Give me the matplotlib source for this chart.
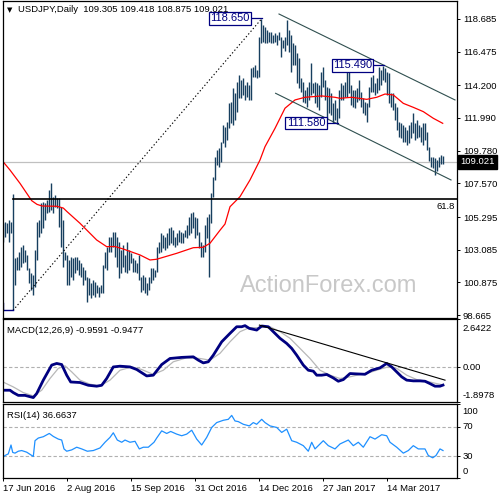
import matplotlib
matplotlib.use("Agg")
import matplotlib.pyplot as plt
import numpy as np

plt.rcParams['font.family'] = ['Liberation Sans', 'DejaVu Sans']

# ---------------- data ----------------
HEADER = "USDJPY,Daily  109.305 109.418 108.875 109.021"
LAST_PRICE = 109.021

HIGHS = [104.91, 104.98, 104.91, 105.09, 104.98, 106.85, 102.50, 102.61, 102.95, 103.29,
         103.40, 103.07, 102.73, 101.83, 101.49, 101.37, 103.07, 104.98, 105.09, 106.22,
         106.33, 106.22, 106.45, 107.12, 107.58, 106.67, 106.78, 106.56, 106.56, 105.99,
         105.09, 102.95, 102.73, 102.39, 102.61, 102.50, 102.61, 102.61, 102.39, 102.17,
         101.94, 101.71, 101.26, 101.15, 100.81, 101.04, 100.92, 100.70, 100.58, 100.70,
         102.05, 102.95, 103.29, 103.96, 103.96, 104.30, 104.30, 103.96, 103.63, 103.07,
         103.40, 102.73, 103.63, 103.07, 102.84, 102.50, 102.39, 102.17, 102.73, 101.26,
         101.37, 101.26, 100.81, 101.26, 101.83, 101.83, 101.71, 103.29, 103.63, 104.19,
         104.08, 103.96, 104.19, 104.53, 104.64, 104.42, 103.96, 104.19, 104.42, 104.30,
         104.19, 104.42, 104.76, 105.32, 105.55, 105.66, 105.32, 105.21, 104.30, 103.63,
         103.40, 104.76, 105.32, 105.50, 106.90, 108.02, 109.37, 109.83, 109.94, 110.39,
         111.52, 111.40, 111.74, 112.98, 113.09, 113.99, 113.66, 114.45, 114.90, 114.56,
         114.68, 114.22, 114.45, 114.22, 115.35, 115.46, 115.57, 115.24, 117.49, 118.65,
         118.30, 118.17, 117.94, 117.83, 117.83, 117.60, 117.72, 117.60, 117.83, 117.49,
         117.27, 117.45, 118.60, 117.94, 117.60, 117.04, 116.90, 116.37, 116.03, 114.68,
         114.45, 113.88, 114.11, 114.45, 115.69, 114.34, 114.45, 114.34, 114.22, 115.12,
         115.46, 114.56, 114.11, 113.99, 113.66, 112.98, 113.21, 112.65, 113.88, 114.34,
         114.22, 114.45, 115.24, 115.12, 114.22, 113.88, 113.88, 113.99, 114.56, 113.77,
         113.32, 113.09, 112.98, 114.11, 114.79, 114.90, 114.34, 114.68, 115.46, 115.24,
         115.49, 115.35, 115.12, 115.01, 113.66, 113.66, 112.98, 112.76, 111.74, 111.63,
         111.52, 111.40, 111.18, 111.52, 111.74, 112.31, 111.63, 111.86, 111.52, 111.40,
         111.63, 111.63, 111.07, 110.05, 109.37, 109.37, 109.26, 109.15, 109.35, 109.50,
         109.418]
LOWS = [103.63, 103.96, 104.19, 103.63, 104.19, 99.01, 100.70, 101.71, 101.71, 101.94,
        102.17, 102.27, 101.71, 100.81, 100.36, 100.02, 100.58, 102.39, 103.96, 104.19,
        104.53, 105.09, 105.55, 105.66, 105.77, 105.55, 105.99, 105.88, 104.64, 103.29,
        101.94, 102.39, 100.70, 100.70, 101.26, 101.04, 101.49, 101.71, 101.37, 101.26,
        100.70, 101.04, 99.57, 100.02, 99.80, 100.02, 99.91, 100.14, 99.91, 100.14,
        100.14, 101.83, 101.71, 102.95, 102.95, 103.29, 102.61, 101.94, 101.15, 101.49,
        101.94, 101.60, 101.49, 101.71, 102.17, 101.60, 101.60, 101.49, 101.04, 100.25,
        100.36, 100.14, 100.02, 100.36, 100.81, 101.04, 101.26, 101.60, 102.84, 102.95,
        103.18, 103.07, 103.18, 103.40, 103.52, 103.40, 103.29, 103.40, 103.63, 103.52,
        103.52, 103.96, 103.85, 104.08, 104.19, 104.53, 103.85, 104.08, 103.18, 102.61,
        102.61, 102.95, 103.85, 101.26, 104.90, 106.67, 107.80, 108.82, 108.70, 109.04,
        110.28, 110.05, 110.50, 111.29, 111.63, 111.52, 111.86, 112.42, 113.32, 113.32,
        113.55, 113.21, 113.43, 113.21, 113.21, 114.78, 114.78, 114.68, 114.78, 117.04,
        117.10, 117.04, 117.04, 117.15, 117.04, 117.04, 117.15, 116.93, 117.27, 116.14,
        116.70, 116.55, 116.95, 116.48, 115.12, 115.57, 115.60, 114.34, 114.00, 113.77,
        113.09, 112.98, 112.76, 113.21, 113.55, 113.66, 112.98, 112.76, 112.53, 113.43,
        114.11, 113.21, 111.86, 112.31, 112.19, 111.63, 111.86, 111.58, 111.97, 113.21,
        113.21, 113.43, 113.43, 113.66, 112.87, 112.76, 112.65, 113.09, 113.21, 112.76,
        112.31, 112.19, 111.74, 112.76, 113.77, 113.77, 113.55, 113.66, 113.88, 114.22,
        114.56, 114.45, 113.55, 112.98, 112.76, 112.53, 111.86, 111.18, 110.73, 110.62,
        110.39, 110.39, 110.17, 110.28, 110.62, 110.96, 110.50, 110.62, 110.73, 110.39,
        110.17, 110.50, 109.83, 109.08, 108.70, 108.60, 108.14, 108.40, 108.65, 108.85,
        108.875]

DATE_TICK_IDX = [0, 32, 64, 96, 128, 160, 192]
DATE_LABELS = ["17 Jun 2016", "2 Aug 2016", "15 Sep 2016", "31 Oct 2016",
               "14 Dec 2016", "27 Jan 2017", "14 Mar 2017"]
PRICE_TICKS = [118.685, 116.475, 114.200, 111.990, 109.780, 107.570,
               105.295, 103.085, 100.875, 98.665]

MA_IDX = [0, 3.5, 8.5, 14.35, 17, 19.5, 27, 30.15, 32, 38.5, 46.85, 51.85, 56, 60.15,
          68.5, 73.5, 76.85, 86.85, 95.15, 100.15, 103.5, 108.5, 111, 113.5, 118.5,
          123.5, 128.5, 131, 136, 141, 146, 151, 159.35, 166, 168.5, 174.35, 181.85,
          186.85, 191, 195.15, 200.15, 205.15, 210.15, 215.15, 219.85]
MA_VAL = [109.04, 108.47, 107.57, 106.40, 106.15, 106.04, 106.02, 105.90, 105.66,
          104.87, 103.74, 103.29, 103.30, 103.13, 102.73, 102.39, 102.44, 102.84,
          103.22, 103.25, 103.52, 104.40, 104.82, 105.99, 106.67, 107.80, 109.15,
          110.05, 111.29, 112.65, 113.21, 113.39, 113.48, 113.39, 113.32, 113.39,
          113.25, 113.39, 113.61, 113.55, 112.98, 112.71, 112.42, 111.97, 111.63]

MACD_IDX = [0, 3.5, 5.15, 7.65, 11, 15.15, 16.85, 20.15, 24.35, 26.85, 29.35, 31.85,
            33.85, 38.5, 42.65, 46.85, 49.35, 51.85, 55.15, 58.5, 63.5, 66.85, 71.85,
            75.15, 79.35, 83.5, 89.35, 95.15, 97.65, 100.15, 102.65, 105.15, 109.35,
            113.5, 116.85, 119.35, 121, 123.15, 126.85, 129.35, 132.65, 135.15, 138.5,
            141.85, 144.35, 146.85, 150.15, 152.65, 155.15, 156.85, 159.35, 161.85,
            165.15, 167.65, 170.15, 173.5, 176.85, 181, 184.35, 188.5, 191.85, 194.35,
            196.85, 199.35, 201.85, 205.15, 208.5, 211, 213.5, 216, 218.5, 220]
MACD_VAL = [-1.24, -1.24, -1.37, -1.52, -1.52, -1.64, -1.42, -0.69, 0.13, 0.22, 0.16,
            -0.42, -0.79, -0.82, -0.97, -1.02, -0.97, -0.60, 0.03, 0.07, 0.03, -0.11,
            -0.46, -0.42, 0.16, 0.49, 0.55, 0.58, 0.40, 0.25, 0.31, 0.67, 1.40, 1.86,
            2.22, 2.22, 2.28, 2.13, 2.04, 2.26, 2.22, 1.95, 1.59, 1.31, 1.04, 0.67,
            0.13, -0.15, -0.20, -0.42, -0.42, -0.38, -0.57, -0.75, -0.66, -0.33, -0.35,
            -0.37, -0.15, -0.02, 0.22, 0.03, -0.24, -0.51, -0.69, -0.73, -0.73, -0.75,
            -0.88, -1.02, -1.02, -0.96]
SIG_IDX = [0, 5.15, 10.15, 15.15, 19.35, 23.5, 27.65, 31, 34.35, 38.5, 43.5, 48.5,
           53.5, 58.5, 64.35, 69.35, 75.15, 80.15, 85.15, 91.85, 98.5, 103.5, 108.5,
           113.5, 118.5, 123.15, 128.5, 133.5, 138.5, 143.5, 148.5, 153.5, 158.5,
           163.5, 168.5, 173.5, 178.5, 183.5, 188.5, 192.65, 196.85, 201.85, 206.85,
           211.85, 216.85, 220]
SIG_VAL = [-0.79, -1.06, -1.37, -1.55, -1.24, -0.60, -0.05, 0.09, -0.24, -0.69, -0.91,
           -1.01, -0.69, -0.15, 0.03, -0.11, -0.38, -0.15, 0.31, 0.53, 0.49, 0.40,
           0.77, 1.40, 1.95, 2.17, 2.17, 2.22, 1.95, 1.59, 1.04, 0.49, -0.15, -0.42,
           -0.60, -0.51, -0.38, -0.27, -0.09, 0.03, -0.05, -0.42, -0.66, -0.75, -0.88,
           -0.95]
MACD_TITLE = "MACD(12,26,9) -0.9591 -0.9477"
MACD_LEVELS = [2.6422, 0.0, -1.8978]
MACD_LEVEL_LABELS = ["2.6422", "0.00", "-1.8978"]

RSI_IDX = [0, 1, 2.65, 4, 4.85, 6, 7.65, 9.35, 11.85, 15.15, 16, 17.65, 20.15, 23.15,
           25.15, 27.65, 29.35, 30.5, 31.85, 34.35, 36.85, 39.35, 42.15, 45.15, 48.5,
           51, 53.5, 55.15, 57.15, 59.35, 61, 63.5, 66, 68.15, 70.15, 72.65, 75.5,
           76.85, 79.35, 81.85, 83.85, 86.85, 89.35, 91.85, 94.35, 96.85, 99.35,
           101.85, 104.35, 106.85, 110.15, 112.65, 114.35, 116, 117.65, 120.15, 123.15,
           125.15, 126.85, 129.35, 131, 133.5, 136.85, 139.35, 141.85, 144.35, 146.85,
           150.15, 152.65, 154.35, 156, 158.5, 160.15, 162.65, 166, 168.5, 172.65,
           175.15, 177.65, 180.15, 183.5, 186, 189.35, 191.85, 193.5, 196.85, 200.15,
           202.65, 205.15, 207.65, 211, 212.65, 214.85, 216.5, 218.5, 220]
RSI_VAL = [28.7, 30.8, 33, 45, 35, 34, 36.6, 37.5, 35.3, 29.5, 50.8, 54.4, 56.2, 60.6,
           56.6, 53, 51.7, 39.7, 36.6, 38.4, 42, 39.7, 36.6, 37.5, 41, 48.7, 55.3, 61.5,
           51.7, 48.7, 51.7, 48.7, 50, 39.7, 42, 42, 48.7, 54.4, 64.1, 60.6, 63.3, 59.7,
           57.5, 59.7, 65, 53, 45, 55.3, 68.7, 75.3, 78.4, 79.7, 85, 77.5, 76.6, 73,
           70.8, 75.3, 73, 79.7, 75.3, 70.8, 68.7, 62, 66.4, 50.8, 48.7, 44.1, 36.6,
           48.7, 39.7, 46.4, 50.8, 44.1, 39.7, 46.4, 51.7, 44.1, 48.7, 42, 56.2, 53,
           58.9, 57.5, 48.7, 42, 34, 37.5, 44.1, 39.7, 39.7, 30.8, 27.7, 30.8, 39.7,
           37.5]
RSI_TITLE = "RSI(14) 36.6637"
RSI_LEVELS = [100, 70, 30, 0]

# annotations (bar index, price)
FIB_START = (5, 98.98)
FIB_END = (129, 118.65)
FIB_618 = 106.50
CHANNEL_UPPER = [(138.0, 119.02), (226.0, 113.21)]
CHANNEL_LOWER = [(136.3, 113.66), (224.0, 107.80)]
MACD_TREND = [(128.2, 2.31), (221.0, -0.69)]
PIVOTS = [("118.650", 129, 118.65), ("115.490", 190, 115.49), ("111.580", 167, 111.58)]

# ---------------- layout ----------------
W = H = 500
fig = plt.figure(figsize=(5, 5), dpi=100)
fig.patch.set_facecolor('white')


def rect(x0, y0, x1, y1):
    return [x0 / W, 1 - y1 / H, (x1 - x0) / W, (y1 - y0) / H]


ax = fig.add_axes(rect(2.5, 1, 457.3, 317.7))
axm = fig.add_axes(rect(2.5, 319, 457.3, 402.3))
axr = fig.add_axes(rect(2.5, 404.3, 457.3, 478.3))

XL = (-0.25, 227.15)
FS = 6.8
BAR_C = '#173f5f'
NAVY = '#000080'

for a in (ax, axm, axr):
    a.set_xlim(*XL)
    for s in a.spines.values():
        s.set_linewidth(0.9)
        s.set_color('black')
    a.yaxis.tick_right()
    a.tick_params(axis='y', direction='out', length=2.5, width=0.7, pad=1.5,
                  labelsize=FS, colors='black')
    a.set_xticks([])

# ---- main panel ----
ax.set_ylim(98.487, 119.90)
idx = np.arange(len(HIGHS))
ax.vlines(idx, LOWS, HIGHS, color=BAR_C, linewidth=1.0)
ax.plot(MA_IDX, MA_VAL, color='#ff0000', linewidth=0.9)
ax.axhline(LAST_PRICE, color='#c0c0c0', linewidth=0.9, zorder=0)
ax.plot([FIB_START[0], XL[1]], [FIB_618, FIB_618], color='black', linewidth=1.2)
ax.plot([FIB_START[0], FIB_END[0]], [FIB_START[1], FIB_END[1]], color='black',
        linewidth=0.8, dashes=(1.2, 2.0))
ax.plot([-1, FIB_START[0]], [FIB_START[1], FIB_START[1]], color=NAVY, linewidth=1.0)
ax.plot([0, 0], [FIB_START[1], 99.45], color=NAVY, linewidth=1.0)
for seg in (CHANNEL_UPPER, CHANNEL_LOWER):
    ax.plot([seg[0][0], seg[1][0]], [seg[0][1], seg[1][1]], color='#2f4f4f', linewidth=0.8)

ax.set_yticks(PRICE_TICKS)
ax.set_yticklabels([f"{v:.3f}" for v in PRICE_TICKS])

# pivot labels: box centre offsets in bars / price units
BOX_POS = {"118.650": (113.5, 118.72), "115.490": (174.75, 115.54), "111.580": (151.5, 111.64)}
BOX_EDGE = {"118.650": 124.0, "115.490": 185.2, "111.580": 162.2}
for txt, bi, pv in PIVOTS:
    bx, by = BOX_POS[txt]
    ax.plot([BOX_EDGE[txt], bi + 0.5], [by, by], color=NAVY, linewidth=0.9)
    ax.text(bx, by, txt, color=NAVY, fontsize=8, ha='center', va='center',
            bbox=dict(boxstyle='square,pad=0.12', fc='white', ec=NAVY, lw=0.9), zorder=5)

ax.text(0.995, 0.3366, "61.8", transform=ax.transAxes, fontsize=FS, ha='right', va='bottom')
ax.text(0.717, 0.082, "ActionForex.com", transform=ax.transAxes, fontsize=17,
        color='#c8c8c8', ha='center', va='baseline', zorder=0)

ax.annotate(f"{LAST_PRICE:.3f}", xy=(1, LAST_PRICE), xycoords=ax.get_yaxis_transform(),
            xytext=(2.2, 0), textcoords='offset points', ha='left', va='center',
            fontsize=FS, color='white',
            bbox=dict(boxstyle='square,pad=0.25', fc='black', ec='black'),
            annotation_clip=False)

fig.text(18 / W, 1 - 10 / H, HEADER, fontsize=FS, va='center', ha='left', color='black')
fig.text(7 / W, 1 - 10 / H, "\u25BC", fontsize=5, va='center', ha='left', color='black',
         family='DejaVu Sans')

# ---- MACD panel ----
axm.set_ylim(-1.8978, 2.6422)
axm.axhline(0, color='#b0b0b0', linewidth=0.8, dashes=(3, 2))
axm.plot(SIG_IDX, SIG_VAL, color='#b8b8b8', linewidth=0.9)
axm.plot(MACD_IDX, MACD_VAL, color=NAVY, linewidth=2.0)
axm.plot([MACD_TREND[0][0], MACD_TREND[1][0]], [MACD_TREND[0][1], MACD_TREND[1][1]],
         color='black', linewidth=0.8)
axm.set_yticks(MACD_LEVELS)
axm.tick_params(axis='y', labelright=False, labelleft=False)
for v, lab, dy in zip(MACD_LEVELS, MACD_LEVEL_LABELS, [-6.5, 0, 5]):
    axm.annotate(lab, xy=(1, v), xycoords=axm.get_yaxis_transform(), xytext=(3.5, dy),
                 textcoords='offset points', ha='left', va='center', fontsize=FS,
                 annotation_clip=False)
axm.text(0.01, 0.86, MACD_TITLE, transform=axm.transAxes, fontsize=FS, ha='left', va='center')

# ---- RSI panel ----
axr.set_ylim(0, 100)
for lv in (70, 30):
    axr.axhline(lv, color='#b0b0b0', linewidth=0.8, dashes=(3, 2))
axr.plot(RSI_IDX, RSI_VAL, color='#1e90ff', linewidth=0.9)
axr.set_yticks(RSI_LEVELS)
axr.tick_params(axis='y', labelright=False, labelleft=False)
for v, dy in zip(RSI_LEVELS, [-5.3, 0, 0, 4.8]):
    axr.annotate(str(v), xy=(1, v), xycoords=axr.get_yaxis_transform(), xytext=(3.5, dy),
                 textcoords='offset points', ha='left', va='center', fontsize=FS,
                 annotation_clip=False)
axr.text(0.01, 0.85, RSI_TITLE, transform=axr.transAxes, fontsize=FS, ha='left', va='center')

axr.set_xticks(DATE_TICK_IDX)
axr.set_xticklabels(DATE_LABELS, ha='left')
axr.tick_params(axis='x', direction='out', length=2.5, width=0.7, pad=1.5, labelsize=FS)

fig.savefig("out.png", dpi=100)
